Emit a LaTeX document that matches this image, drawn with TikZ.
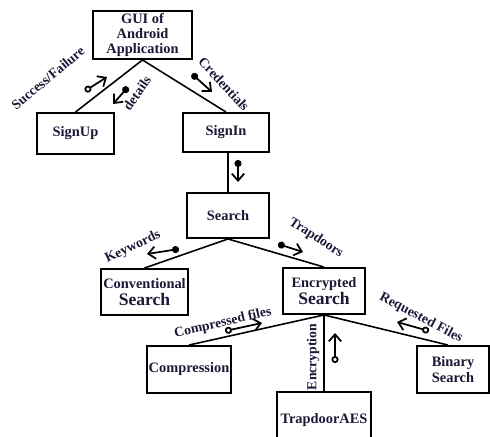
\documentclass[tikz,border=0pt]{standalone}
\usepackage{fontspec}
\setmainfont{Liberation Serif}
\usetikzlibrary{arrows.meta}
\definecolor{inkblue}{RGB}{25,25,55}

\tikzset{
  box/.style={draw=black, line width=1.1pt, align=center, text=inkblue,
    font=\fontsize{8.2}{8.8}\selectfont\bfseries, inner sep=1pt},
  link/.style={line width=0.9pt},
  lbl/.style={font=\fontsize{7.8}{8}\selectfont\bfseries, text=inkblue, inner sep=0pt},
  msgf/.style={line width=1pt, {Circle[length=4pt]}-{Straight Barb[length=4pt,width=7pt]}},
  msgo/.style={line width=1pt, {Circle[open,length=4pt]}-{Straight Barb[length=4pt,width=7pt]}},
}
\newcommand{\bigsearch}{{\fontsize{10}{10}\selectfont Search}}

\begin{document}
\begin{tikzpicture}[x=0.02cm,y=-0.02cm]
\useasboundingbox (0,0) rectangle (490,436);
\clip (0,0) rectangle (490,436);
% boxes
\node[box, minimum width=19.8mm, minimum height=9.6mm] (gui) at (142.5,35) {GUI of\\Android\\Application};
\node[box, minimum width=15.4mm, minimum height=8.2mm] (signup) at (75.5,133.5) {SignUp};
\node[box, minimum width=17.2mm, minimum height=7.8mm] (signin) at (226,132.5) {SignIn};
\node[box, minimum width=16.4mm, minimum height=9mm] (search) at (228,215.5) {Search};
\node[box, minimum width=17.4mm, minimum height=9.2mm] (conv) at (144.5,292) {Conventional\\[1pt]\bigsearch};
\node[box, minimum width=16.4mm, minimum height=9.2mm] (enc) at (324,291) {Encrypted\\[1pt]\bigsearch};
\node[box, minimum width=16.4mm, minimum height=9.4mm] (comp) at (189,369.5) {Compression};
\node[box, minimum width=14.4mm, minimum height=9.4mm] (binary) at (453,369.5) {Binary\\Search};
\node[box, minimum width=18.8mm, minimum height=11.2mm] (aes) at (324,420) {TrapdoorAES};
% links
\draw[link] (gui.south) -- (signup.north);
\draw[link] (gui.south) -- (signin.north);
\draw[link] (search.north |- signin.south) -- (search.north);
\draw[link] (search.south) -- (conv.north);
\draw[link] (search.south) -- (enc.north);
\draw[link] (enc.south) -- (comp.north);
\draw[link] (enc.south) -- (aes.north);
\draw[link] (enc.south) -- ([xshift=-1mm]binary.north);
% labels
\node[lbl, rotate=40] (lsucc) at (48,78) {Success/Failure};
\node[lbl, rotate=55] (ldet) at (137,93) {details};
\node[lbl, rotate=-47] (lcred) at (224,84) {Credentials};
\node[lbl, rotate=25] (lkey) at (133,247) {Keywords};
\node[lbl, rotate=-33] (ltrap) at (316,238) {Trapdoors};
\node[lbl, rotate=13] (lcomp) at (223,323) {Compressed files};
\node[lbl, rotate=90] (lenc) at (313,357) {Encryption};
\node[lbl, rotate=-28] (lreq) at (421,318) {Requested Files};
% message arrows
\coordinate (succ-a) at (85,91);   \coordinate (succ-b) at (107,77);
\coordinate (det-a) at (128,87);   \coordinate (det-b) at (113,104);
\coordinate (cred-a) at (192,74);  \coordinate (cred-b) at (212,92);
\coordinate (in-a) at (238,160);   \coordinate (in-b) at (238,182);
\coordinate (key-a) at (179,249);  \coordinate (key-b) at (147,254);
\coordinate (trap-a) at (278,244); \coordinate (trap-b) at (303,252);
\coordinate (comp-a) at (225,331); \coordinate (comp-b) at (262,323);
\coordinate (enc-a) at (335,363);  \coordinate (enc-b) at (335,333);
\coordinate (req-a) at (429,331);  \coordinate (req-b) at (397,322);
\draw[msgo] (succ-a) -- (succ-b);
\draw[msgf] (det-a) -- (det-b);
\draw[msgf] (cred-a) -- (cred-b);
\draw[msgf] (in-a) -- (in-b);
\draw[msgf] (key-a) -- (key-b);
\draw[msgf] (trap-a) -- (trap-b);
\draw[msgo] (comp-a) -- (comp-b);
\draw[msgo] (enc-a) -- (enc-b);
\draw[msgo] (req-a) -- (req-b);
\end{tikzpicture}
\end{document}
